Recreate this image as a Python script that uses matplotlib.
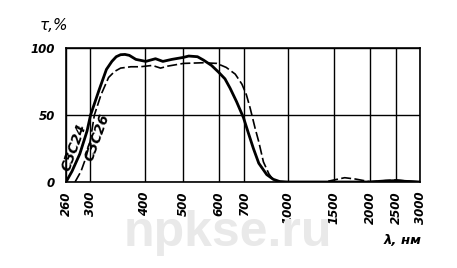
import numpy as np
import matplotlib
matplotlib.use('Agg')
import matplotlib.pyplot as plt

# wavelength ticks (nm) of the nonuniform axis and their relative position on the chart
wl_ticks = [260, 300, 400, 500, 600, 700, 1000, 1500, 2000, 2500, 3000]
tick_pos = [0, 24, 78.5, 117.3, 152.3, 178, 221.5, 267.5, 303.5, 329.5, 353.5]

# C3C24 (solid)
wl_24 = [260, 270, 283, 295, 301, 316, 330, 340, 348, 356, 364, 372, 384, 403, 428, 447, 470,
         500, 515, 540, 557, 580, 600, 625, 645, 670, 697, 730, 763, 800, 855, 900,
         945, 1000, 1500, 2000, 2300, 2500, 2700, 3000]
tau_24 = [0, 8, 21, 38, 50, 68, 84, 90, 93.5, 95, 95.2, 94.5, 91.5, 90, 92, 90, 91.5,
          93, 94, 93.5, 91, 87, 82, 77, 70, 60, 48, 36, 25, 14, 5.5, 2,
          0.3, 0, 0, 0, 0.8, 1, 0.5, 0]

# C3C26 (dashed)
wl_26 = [275, 285, 293, 300, 308, 320, 334, 345, 356, 375, 392, 420, 441, 460, 500, 557,
         595, 630, 665, 691, 715, 741, 775, 800, 832, 870, 900, 950, 1000, 1400,
         1500, 1650, 1800, 2000, 2300, 2500, 2700, 3000]
tau_26 = [0, 8, 18, 30, 50, 65, 78, 82.5, 85, 86, 86, 87, 85, 86.5, 88.5, 89,
          88.5, 85.5, 80.5, 73, 65, 55, 40, 30, 15, 6, 1.5, 0.3, 0, 0,
          1.5, 3.2, 2.2, 0.2, 1, 1.5, 0.8, 0]


def fwd(x):
    return np.interp(x, wl_ticks, tick_pos)


def inv(p):
    return np.interp(p, tick_pos, wl_ticks)


fig = plt.figure(figsize=(4.57, 2.68), dpi=100)
ax = fig.add_axes([66/457, 1-182/268, 354/457, 134/268])
ax.set_xscale('function', functions=(fwd, inv))
ax.set_xlim(260, 3000)
ax.set_ylim(0, 100)

ax.plot(wl_24, tau_24, color='black', lw=2.0, solid_capstyle='round',
        solid_joinstyle='round', zorder=3)
l26, = ax.plot(wl_26, tau_26, color='black', lw=1.2, zorder=3)
l26.set_dashes([6, 2])

ax.set_xticks(wl_ticks)
ax.set_xticklabels([str(v) for v in wl_ticks], rotation=90, fontsize=8.5,
                   fontstyle='italic', fontweight='bold')
ax.set_yticks([0, 50, 100])
ax.set_yticklabels(['0', '50', '100'], fontsize=8.5, fontstyle='italic', fontweight='bold')
ax.tick_params(length=0, pad=8)
ax.tick_params(axis='x', pad=7)
ax.grid(True, color='black', lw=1.0)
for s in ax.spines.values():
    s.set_linewidth(1.2)

ax.text(273, 26, 'СЗС24', rotation=70, fontsize=10, fontstyle='italic', fontweight='bold',
        ha='center', va='center', zorder=4)
ax.text(313, 33, 'СЗС26', rotation=70, fontsize=10, fontstyle='italic', fontweight='bold',
        ha='center', va='center', zorder=4)

fig.text(40/457, 1-26/268, 'τ,%', fontsize=11, fontstyle='italic', ha='left', va='center')

# watermark
fig.text(228/457, 1-233/268, 'npkse.ru', fontsize=36, color='#e9e9e9', fontweight='bold',
         family='Liberation Sans', ha='center', va='center', zorder=0)
fig.text(403/457, 1-240/268, 'λ, нм', fontsize=9.5, fontstyle='italic', fontweight='bold',
         ha='center', va='center')

fig.savefig('out.png', dpi=100)
